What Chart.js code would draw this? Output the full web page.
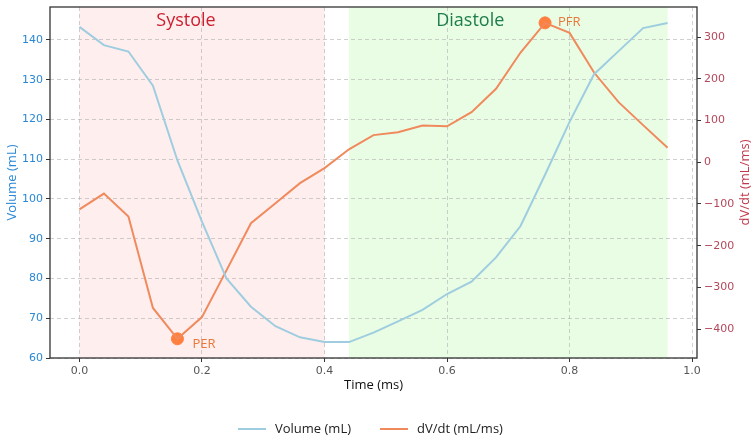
<!DOCTYPE html>
<html>
<head>
<meta charset="utf-8">
<script src="https://cdn.jsdelivr.net/npm/chart.js@4.4.1/dist/chart.umd.min.js"></script>
<style>
  html, body { margin: 0; padding: 0; background: #fff; }
  #wrap { width: 753px; height: 440px; position: relative; }
</style>
</head>
<body>
<div id="wrap"><canvas id="c" width="753" height="440"></canvas></div>
<script>
// time points (ms)
const times = [0.00, 0.04, 0.08, 0.12, 0.16, 0.20, 0.24, 0.28, 0.32, 0.36, 0.40, 0.44, 0.48,
               0.52, 0.56, 0.60, 0.64, 0.68, 0.72, 0.76, 0.80, 0.84, 0.88, 0.92, 0.96];
// LV volume (mL)
const volume = [143.3, 138.7, 137.1, 128.5, 109.7, 94.3, 80.0, 72.9, 68.0, 65.2, 64.0, 64.0, 66.4,
                69.2, 72.1, 76.1, 79.2, 85.3, 93.2, 106.1, 119.4, 131.4, 137.2, 143.0, 144.3];
// dV/dt (mL/ms)
const dvdt = [-113, -75, -130, -349, -423, -371, -259, -146, -98, -50, -14, 31, 65,
              72, 88, 86, 120, 176, 263, 334, 310, 215, 144, 89, 35];

// phases
const phaseNames = ['Systole', 'Diastole'];
const phaseStart = [0.0, 0.44];
const phaseEnd = [0.4, 0.96];
const phaseLabelAt = [0.174, 0.638];

// key points
const markNames = ['PER', 'PFR'];
const markTimes = [0.16, 0.76];
const markValues = [-423, 334];

// ticks
const xTicks = [0.0, 0.2, 0.4, 0.6, 0.8, 1.0];
const volTicks = [60, 70, 80, 90, 100, 110, 120, 130, 140];
const rateTicks = [-400, -300, -200, -100, 0, 100, 200, 300];

const seriesNames = ['Volume (mL)', 'dV/dt (mL/ms)'];
const rightTitle = 'dV/dt (mL/ms)';

const volColor = '#9fcde0';
const rateColor = '#f08a5d';
const dotColor = '#ff7f3f';
const leftColor = '#2a88d6';
const rightColor = '#b4475a';

// background phase spans + labels, right title, legend
const spans = {
  id: 'spans',
  beforeDraw(chart) {
    const {ctx, chartArea: a, scales: {x}} = chart;
    const fills = ['rgba(255,205,205,0.35)', 'rgba(200,250,190,0.42)'];
    ctx.save();
    for (let i = 0; i < phaseNames.length; i++) {
      const x0 = x.getPixelForValue(phaseStart[i]);
      const x1 = x.getPixelForValue(phaseEnd[i]);
      ctx.fillStyle = fills[i];
      ctx.fillRect(x0, a.top, x1 - x0, a.bottom - a.top);
    }
    ctx.restore();
  },
  afterDatasetsDraw(chart) {
    const {ctx, chartArea: a, scales: {x, y1}} = chart;
    ctx.save();
    // phase labels
    const cols = ['#cc1f30', '#1e7d4e'];
    ctx.font = '18px "Open Sans", "Noto Sans", sans-serif';
    ctx.textAlign = 'center';
    ctx.textBaseline = 'middle';
    for (let i = 0; i < phaseNames.length; i++) {
      ctx.fillStyle = cols[i];
      ctx.fillText(phaseNames[i], x.getPixelForValue(phaseLabelAt[i]), a.top + 14);
    }
    // marker labels
    ctx.font = '13px "Open Sans", "Noto Sans", sans-serif';
    ctx.fillStyle = '#e8783a';
    ctx.textAlign = 'left';
    const offs = [[15, 5], [13, -1]];
    for (let i = 0; i < markNames.length; i++) {
      ctx.fillText(markNames[i], x.getPixelForValue(markTimes[i]) + offs[i][0],
                   y1.getPixelForValue(markValues[i]) + offs[i][1]);
    }
    // frame
    ctx.strokeStyle = '#333';
    ctx.lineWidth = 1.3;
    ctx.strokeRect(a.left, a.top, a.right - a.left, a.bottom - a.top);
    ctx.restore();
  },
  afterDraw(chart) {
    const {ctx, chartArea: a} = chart;
    ctx.save();
    // right axis title, reads bottom to top like the left one
    ctx.font = '13px "Open Sans", "Noto Sans", sans-serif';
    ctx.fillStyle = '#c0394b';
    ctx.textAlign = 'center';
    ctx.textBaseline = 'middle';
    ctx.translate(745, (a.top + a.bottom) / 2);
    ctx.rotate(-Math.PI / 2);
    ctx.fillText(rightTitle, 0, 0);
    ctx.restore();

    // legend
    ctx.save();
    ctx.font = '13px "Open Sans", "Noto Sans", sans-serif';
    ctx.textBaseline = 'middle';
    ctx.textAlign = 'left';
    const items = [[238, volColor, seriesNames[0]], [380, rateColor, seriesNames[1]]];
    items.forEach(([lx, c, t]) => {
      ctx.strokeStyle = c;
      ctx.lineWidth = 2;
      ctx.beginPath();
      ctx.moveTo(lx, 429);
      ctx.lineTo(lx + 28, 429);
      ctx.stroke();
      ctx.fillStyle = '#222';
      ctx.fillText(t, lx + 37, 429);
    });
    ctx.restore();
  }
};

const tickFont = {family: '"DejaVu Sans", sans-serif', size: 11};
const titleFont = {family: '"Open Sans", "Noto Sans", sans-serif', size: 13};
const gridOpts = {
  color: 'rgba(170,170,170,0.55)',
  tickLength: 4,
  tickColor: '#333',
  tickBorderDash: []
};
// fixed axis width, no extra padding for the end labels
const fitY = w => s => { s.width = w; s.paddingTop = 0; s.paddingBottom = 0; };

new Chart(document.getElementById('c'), {
  type: 'line',
  data: {
    datasets: [
      {
        label: seriesNames[0],
        data: times.map((t, i) => ({x: t, y: volume[i]})),
        borderColor: volColor,
        borderWidth: 2,
        pointRadius: 0,
        tension: 0,
        yAxisID: 'y'
      },
      {
        label: seriesNames[1],
        data: times.map((t, i) => ({x: t, y: dvdt[i]})),
        borderColor: rateColor,
        borderWidth: 2,
        pointRadius: 0,
        tension: 0,
        yAxisID: 'y1'
      },
      {
        label: 'marks',
        type: 'scatter',
        data: markTimes.map((t, i) => ({x: t, y: markValues[i]})),
        backgroundColor: dotColor,
        borderColor: dotColor,
        pointRadius: 6,
        yAxisID: 'y1'
      }
    ]
  },
  options: {
    responsive: false,
    animation: false,
    devicePixelRatio: 1,
    layout: {padding: {top: 2, bottom: 47, left: 0, right: 0}},
    plugins: {legend: {display: false}, tooltip: {enabled: false}},
    scales: {
      x: {
        type: 'linear',
        min: -0.048,
        max: 1.008,
        afterBuildTicks: s => { s.ticks = xTicks.map(v => ({value: v})); },
        afterFit: s => { s.height = 35; },
        ticks: {
          font: tickFont,
          color: '#555',
          padding: 3,
          maxRotation: 0,
          callback: v => v.toFixed(1)
        },
        grid: gridOpts,
        border: {display: false, dash: [4, 3]},
        title: {display: true, text: 'Time (ms)', font: titleFont, color: '#111', padding: {top: 0, bottom: 0}}
      },
      y: {
        position: 'left',
        min: 60,
        max: 148.3,
        afterBuildTicks: s => { s.ticks = volTicks.map(v => ({value: v})); },
        afterFit: fitY(50),
        ticks: {font: tickFont, color: leftColor, padding: 3},
        grid: gridOpts,
        border: {display: false, dash: [4, 3]},
        title: {display: true, text: 'Volume (mL)', font: titleFont, color: leftColor, padding: {top: 4, bottom: 0}}
      },
      y1: {
        position: 'right',
        min: -469,
        max: 372,
        afterBuildTicks: s => { s.ticks = rateTicks.map(v => ({value: v})); },
        afterFit: fitY(56),
        ticks: {
          font: tickFont,
          color: rightColor,
          padding: 3,
          callback: v => (v < 0 ? '\u2212' + Math.abs(v) : String(v))
        },
        grid: {
          drawOnChartArea: false,
          tickLength: 4,
          tickColor: '#333'
        },
        border: {display: false}
      }
    }
  },
  plugins: [spans]
});
</script>
</body>
</html>
